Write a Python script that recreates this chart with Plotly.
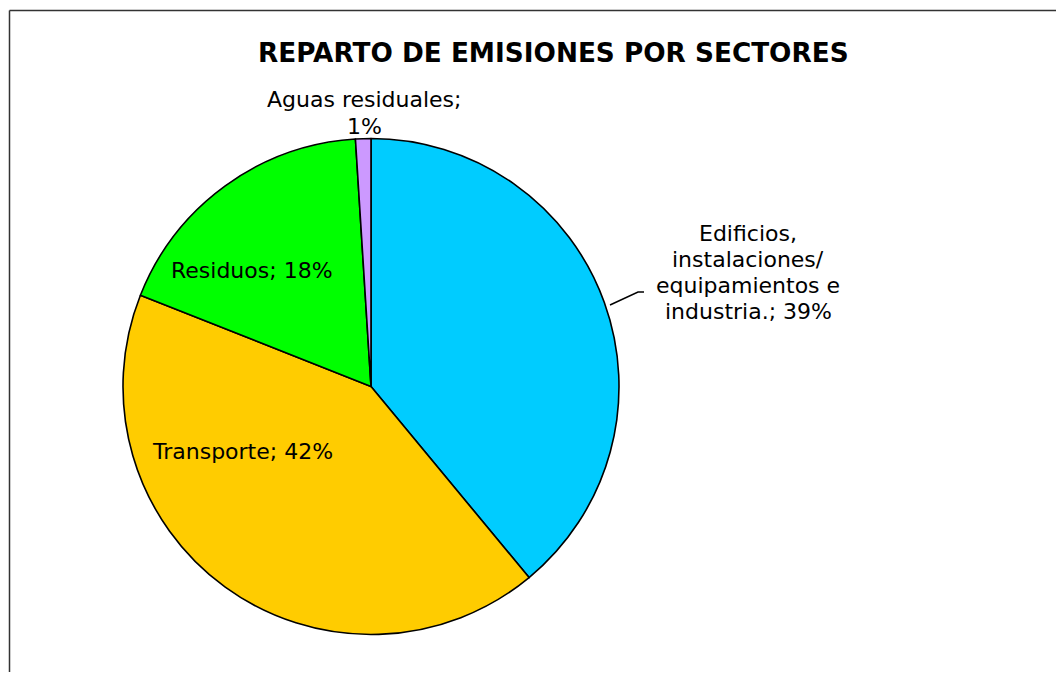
import plotly.graph_objects as go

# page body has an 8px default margin; figure is offset by it
OFF = 8
W, H = 1048, 664

sectors = ["Edificios, instalaciones/ equipamientos e industria.", "Transporte", "Residuos", "Aguas residuales"]
values = [39, 42, 18, 1]
colors = ["#00CCFF", "#FFCC00", "#00FF00", "#CC99FF"]
label_lines = [
    ["Edificios,", "instalaciones/", "equipamientos e", "industria.; 39%"],
    ["Transporte; 42%"],
    ["Residuos; 18%"],
    ["Aguas residuales;", "1%"],
]
# first-line centers in screen pixels
label_pos = [(748, 233), (242, 451), (252, 270), (364, 100)]
LINE_GAP = 26

def px(x):
    return (x - OFF) / W

def py(y):
    return 1 - (y - OFF) / H

cx, cy, r = 371, 386.5, 248

FONT = "DejaVu Sans, Arial, sans-serif"

fig = go.Figure(go.Pie(
    labels=sectors,
    values=values,
    marker=dict(colors=colors, line=dict(color="black", width=1.6)),
    sort=False,
    direction="clockwise",
    rotation=0,
    textinfo="none",
    hoverinfo="label+percent",
    showlegend=False,
    domain=dict(x=[px(cx - r), px(cx + r)], y=[py(cy + r), py(cy - r)]),
))

annotations = []
for lines, (x, y) in zip(label_lines, label_pos):
    for i, line in enumerate(lines):
        annotations.append(dict(
            x=px(x), y=py(y + i * LINE_GAP), xref="paper", yref="paper",
            text=line, showarrow=False,
            font=dict(family=FONT, size=22, color="black"),
            align="center", xanchor="center", yanchor="middle",
        ))
annotations.append(dict(
    x=px(553), y=py(53), xref="paper", yref="paper",
    text="<b>REPARTO DE EMISIONES POR SECTORES</b>", showarrow=False,
    font=dict(family=FONT, size=26.3, color="black"),
    xanchor="center", yanchor="middle",
))

shapes = [
    dict(type="line", xref="paper", yref="paper",
         x0=px(9.5), y0=py(10.5), x1=px(1070), y1=py(10.5),
         line=dict(color="#333333", width=1.5)),
    dict(type="line", xref="paper", yref="paper",
         x0=px(9.5), y0=py(10.5), x1=px(9.5), y1=py(690),
         line=dict(color="#333333", width=1.5)),
    dict(type="path", xref="paper", yref="paper",
         path=f"M {px(610)} {py(305)} L {px(638)} {py(292)} L {px(644)} {py(292)}",
         line=dict(color="black", width=1.5)),
]

fig.update_layout(
    width=W, height=H,
    margin=dict(l=0, r=0, t=0, b=0),
    paper_bgcolor="white", plot_bgcolor="white",
    annotations=annotations, shapes=shapes,
)

fig.write_html("out.html")
